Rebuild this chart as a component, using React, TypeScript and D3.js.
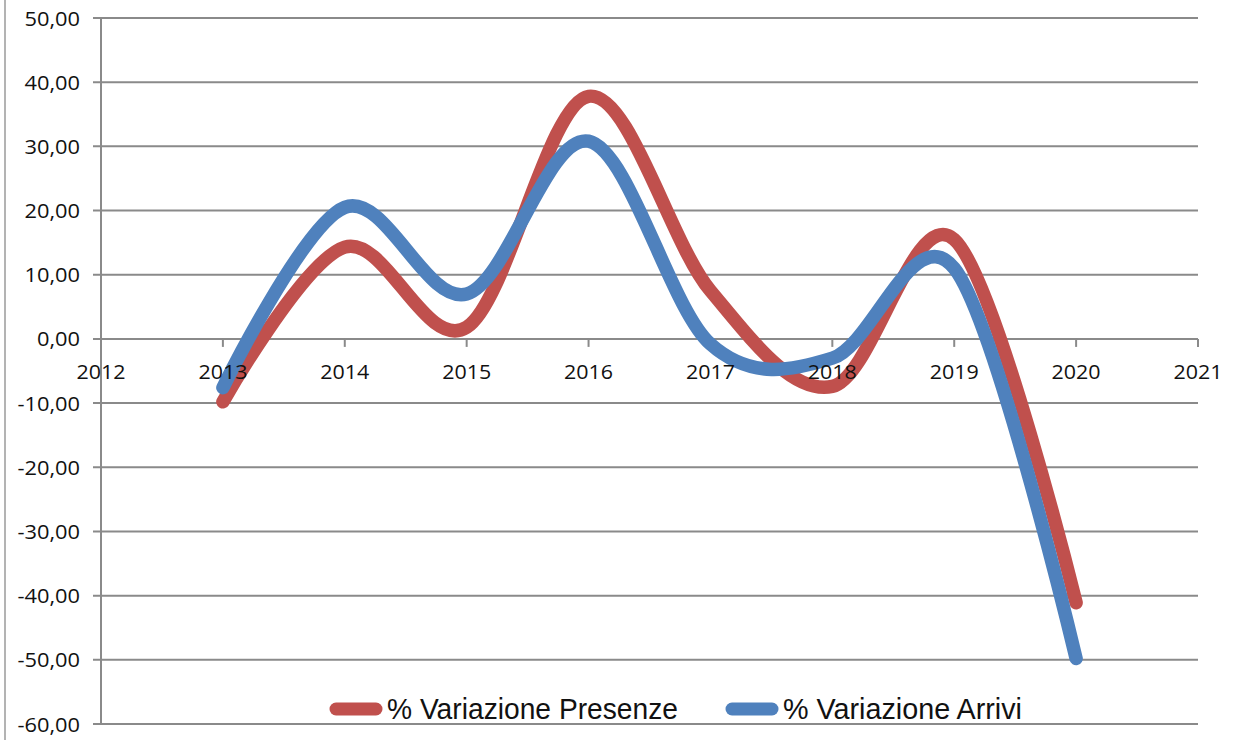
import React from "react";
import * as d3 from "d3";

const years = [2013, 2014, 2015, 2016, 2017, 2018, 2019, 2020];
const presenze = [-9.8, 14.3, 1.8, 37.8, 7.5, -7.4, 15.5, -41.1];
const arrivi = [-7.6, 20.5, 7.0, 30.8, -0.8, -3.0, 11.0, -49.8];
const xTicks = [2012, 2013, 2014, 2015, 2016, 2017, 2018, 2019, 2020, 2021];
const yTicks = [50, 40, 30, 20, 10, 0, -10, -20, -30, -40, -50, -60];
const seriesNames = ["% Variazione Presenze", "% Variazione Arrivi"];
const colors = ["#C0504D", "#4F81BD"];

const W = 1233;
const H = 740;
const left = 101;
const right = 1198;
const top = 18;
const bottom = 724;

export default function App() {
  const x = d3.scaleLinear().domain([2012, 2021]).range([left, right]);
  const y = d3.scaleLinear().domain([-60, 50]).range([bottom, top]);
  const line = d3
    .line<[number, number]>()
    .x((d) => x(d[0]))
    .y((d) => y(d[1]))
    .curve(d3.curveCardinal.tension(0));
  const series = [presenze, arrivi];
  const fmt = (v: number) => v.toFixed(2).replace(".", ",");
  const grid = "#8a8a8a";
  const font = "'Open Sans', sans-serif";

  return (
    <svg
      width={W}
      height={H}
      style={{ position: "absolute", left: 0, top: 0, background: "#fff" }}
    >
      <rect x={0} y={0} width={W} height={H} fill="#fff" />
      <line x1={5} x2={5} y1={0} y2={H} stroke="#9a9a9a" strokeWidth={1.5} />
      {yTicks.map((t) => (
        <g key={t}>
          <line x1={left - 8} x2={right} y1={y(t)} y2={y(t)} stroke={grid} strokeWidth={2} />
          <text
            transform={`translate(80,${y(t)}) scale(1.12,1)`}
            textAnchor="end"
            dominantBaseline="central"
            fontFamily={font}
            fontSize={19.5}
            fill="#111"
          >
            {fmt(t)}
          </text>
        </g>
      ))}
      <line x1={left} x2={left} y1={top} y2={bottom} stroke={grid} strokeWidth={2} />
      {xTicks.map((t) => (
        <line key={t} x1={x(t)} x2={x(t)} y1={y(0)} y2={y(0) + 8} stroke={grid} strokeWidth={2} />
      ))}
      {series.map((s, i) => (
        <path
          key={i}
          d={line(years.map((yr, j) => [yr, s[j]] as [number, number])) || ""}
          fill="none"
          stroke={colors[i]}
          strokeWidth={13.5}
          strokeLinecap="round"
          strokeLinejoin="round"
        />
      ))}
      {xTicks.map((t) => (
        <text
          key={t}
          transform={`translate(${x(t)},${y(0) + 32}) scale(1.1,1)`}
          textAnchor="middle"
          dominantBaseline="central"
          fontFamily={font}
          fontSize={19.5}
          fill="#111"
        >
          {t}
        </text>
      ))}
      {seriesNames.map((n, i) => {
        const lx = i === 0 ? 336 : 732;
        const tl = i === 0 ? 291 : 239;
        return (
          <g key={n}>
            <line
              x1={lx}
              x2={lx + 40}
              y1={709}
              y2={709}
              stroke={colors[i]}
              strokeWidth={13}
              strokeLinecap="round"
            />
            <text
              x={lx + 51}
              y={719}
              fontFamily="'Liberation Sans', Arial, sans-serif"
              fontSize={30}
              textLength={tl}
              lengthAdjust="spacingAndGlyphs"
              fill="#111"
            >
              {n}
            </text>
          </g>
        );
      })}
    </svg>
  );
}
